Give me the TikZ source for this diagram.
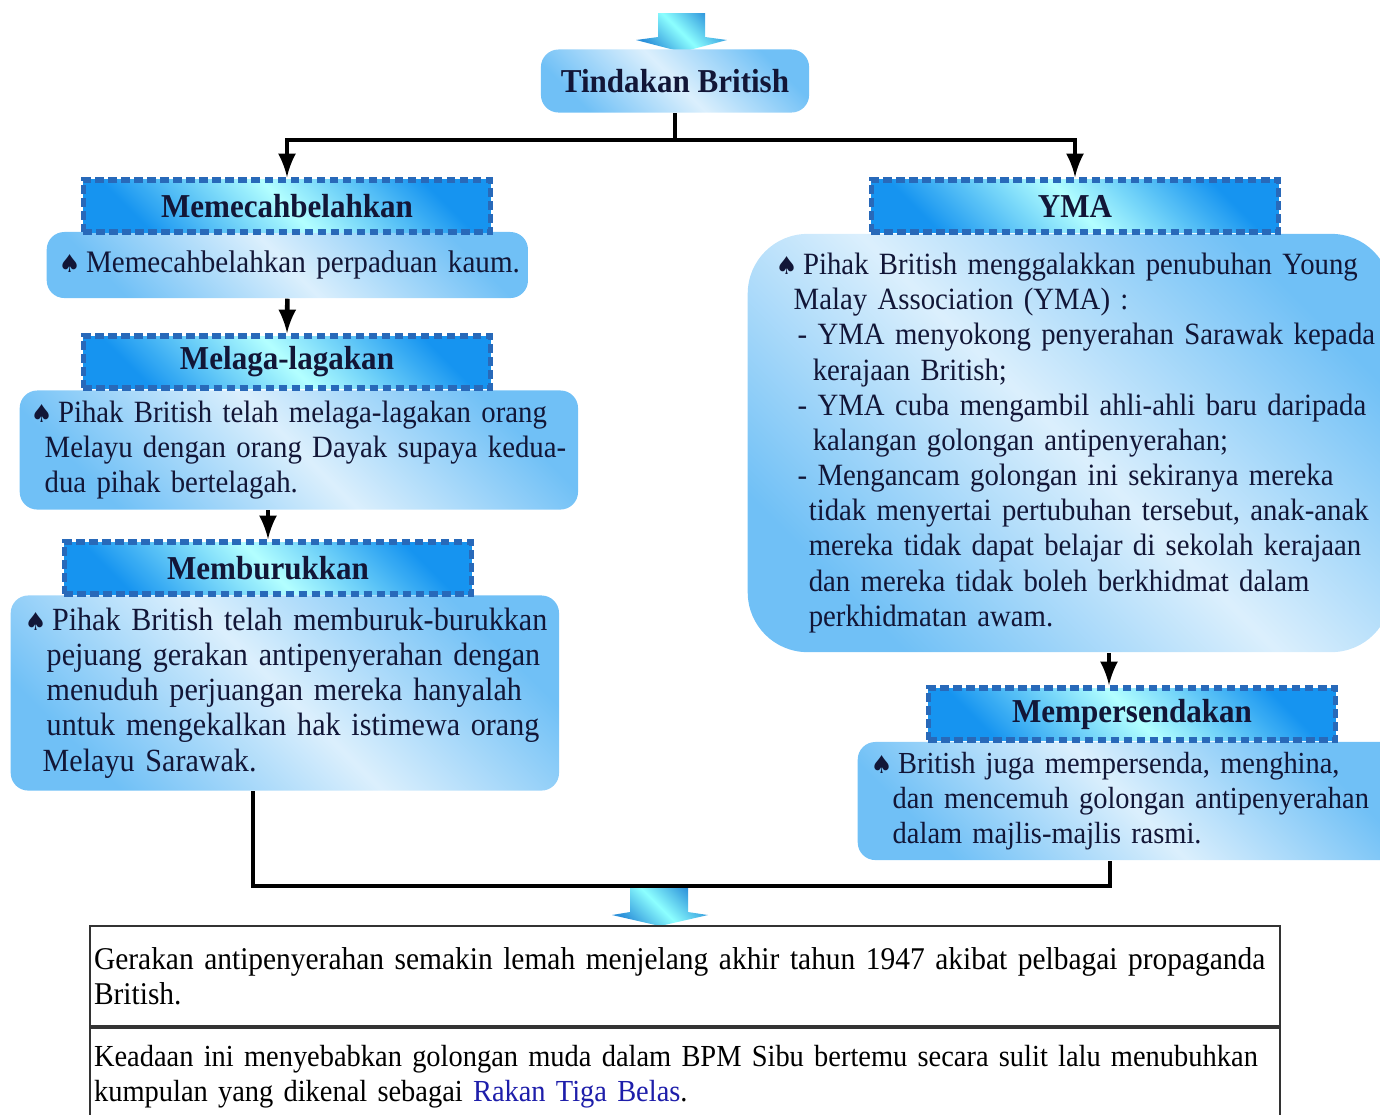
\documentclass[tikz,border=0pt]{standalone}
\usepackage{fontspec}
\setmainfont[FakeStretch=0.93]{Liberation Serif}
\newfontfamily\symfont{DejaVu Sans}
\usetikzlibrary{arrows,calc,positioning}

\definecolor{boxblue}{RGB}{112,192,246}
\definecolor{hdblue}{RGB}{22,148,240}
\definecolor{hdedge}{RGB}{40,105,185}
\definecolor{ink}{RGB}{18,22,55}
\definecolor{linkblue}{RGB}{30,30,170}
\newcommand{\spade}{{\symfont\fontsize{7}{7}\selectfont ♠}\hspace{1.5pt}}
% one unbroken line, indented by #1 cm
\newcommand{\lyn}[2]{\mbox{\hspace*{#1cm}#2}}

\tikzset{
  line/.style={draw=black, line width=1.3pt},
  arr/.style={line, -latex},
  txtbox/.style={rounded corners=5pt, left color=boxblue, right color=boxblue,
    middle color=white!75!boxblue, shading angle=135, align=left, anchor=west,
    inner xsep=0.02cm, inner ysep=0pt, text=ink, font=\fontsize{9.2}{10}\selectfont},
  hdbox/.style={draw=hdedge, dash pattern=on 2.5pt off 1.2pt, line width=1.6pt,
    left color=hdblue, right color=hdblue, middle color=white!70!cyan,
    shading angle=135, minimum width=4.07cm, minimum height=0.52cm,
    inner sep=0pt, text=ink, font=\bfseries\fontsize{9.5}{11}\selectfont},
  fatarrow/.style={left color=hdblue!80!gray, right color=hdblue!80!gray,
    middle color=white!55!cyan, shading angle=135},
  tablerow/.style={draw=black!80, line width=0.6pt, minimum width=11.89cm,
    text width=11.81cm, inner xsep=0.04cm, inner ysep=0pt, align=left,
    font=\fontsize{9}{10}\selectfont},
}

\begin{document}
\begin{tikzpicture}[x=0.01cm, y=-0.01cm]
  \path[use as bounding box, clip] (0,0) rectangle (1380,1114);

  % arrow coming in at the top
  \shade[fatarrow] (658,13) -- (705,13) -- (705,37) -- (727,40) -- (682,52)
    -- (636,40) -- (658,37) -- cycle;
  \node[rounded corners=5pt, left color=boxblue, right color=boxblue,
    middle color=white!75!boxblue, shading angle=135, minimum width=2.68cm,
    minimum height=0.63cm, text=ink, font=\bfseries\fontsize{9.5}{12}\selectfont]
    (tindakan) at (675,81) {Tindakan British};

  % left column
  \node[txtbox, text width=4.77cm, minimum height=0.66cm, font=\fontsize{8.9}{10}\selectfont] (memecah) at (46,265)
    {\lyn{0.10}{\spade Memecahbelahkan perpaduan kaum.}};
  \node[hdbox] (hdMemecah) at (287,206) {Memecahbelahkan};
  \node[txtbox, text width=5.54cm, minimum height=1.19cm, font=\fontsize{8.8}{10}\selectfont] (melaga) at (19,450)
    {\lyn{0.09}{\spade Pihak British telah melaga-lagakan orang}\\
     \lyn{0.23}{Melayu dengan orang Dayak supaya kedua-}\\
     \lyn{0.23}{dua pihak bertelagah.}};
  \node[hdbox] (hdMelaga) at (287,362) {Melaga-lagakan};
  \node[txtbox, text width=5.44cm, minimum height=1.95cm] (memburuk) at (10,693)
    {\lyn{0.12}{\spade Pihak British telah memburuk-burukkan}\\
     \lyn{0.34}{pejuang gerakan antipenyerahan dengan}\\
     \lyn{0.34}{menuduh perjuangan mereka hanyalah}\\
     \lyn{0.34}{untuk mengekalkan hak istimewa orang}\\
     \lyn{0.30}{Melayu Sarawak.}};
  \node[hdbox] (hdMemburuk) at (268,568) {Memburukkan};

  % right column
  \node[txtbox, rounded corners=17pt, text width=6.39cm, minimum height=4.18cm,
    font=\fontsize{8.8}{10}\selectfont] (yma) at (747,443)
    {\lyn{0.26}{\spade Pihak British menggalakkan penubuhan Young}\\
     \lyn{0.44}{Malay Association (YMA) :}\\
     \lyn{0.48}{- YMA menyokong penyerahan Sarawak kepada}\\
     \lyn{0.63}{kerajaan British;}\\
     \lyn{0.48}{- YMA cuba mengambil ahli-ahli baru daripada}\\
     \lyn{0.63}{kalangan golongan antipenyerahan;}\\
     \lyn{0.48}{- Mengancam golongan ini sekiranya mereka}\\
     \lyn{0.59}{tidak menyertai pertubuhan tersebut, anak-anak}\\
     \lyn{0.59}{mereka tidak dapat belajar di sekolah kerajaan}\\
     \lyn{0.59}{dan mereka tidak boleh berkhidmat dalam}\\
     \lyn{0.59}{perkhidmatan awam.}};
  \node[hdbox] (hdYMA) at (1075,206) {YMA};
  \node[txtbox, text width=5.36cm, minimum height=1.18cm, font=\fontsize{8.7}{10}\selectfont] (mempersenda) at (857,801)
    {\lyn{0.11}{\spade British juga mempersenda, menghina,}\\
     \lyn{0.33}{dan mencemuh golongan antipenyerahan}\\
     \lyn{0.33}{dalam majlis-majlis rasmi.}};
  \node[hdbox] (hdMemp) at (1132,714) {Mempersendakan};

  % connectors
  \coordinate (split) at (675,140);
  \coordinate (joinL) at (253,886);
  \coordinate (joinR) at (1110,886);
  \draw[line] (tindakan.south) -- (split);
  \draw[arr] (split) -| (hdMemecah.north);
  \draw[arr] (split) -| (hdYMA.north);
  \draw[arr] (memecah.south) -- (hdMelaga.north);
  \draw[arr] (hdMemburuk.north |- melaga.south) -- (hdMemburuk.north);
  \draw[arr] ([xshift=-0.23cm]hdMemp.north |- yma.south) -- ([xshift=-0.23cm]hdMemp.north);
  \draw[line] (memburuk.south -| joinL) -- (joinL) -- (joinR) -- (joinR |- mempersenda.south);

  % arrow into the result table
  \shade[fatarrow] (630,888) -- (688,888) -- (688,912) -- (708,915) -- (660,926)
    -- (612,915) -- (630,912) -- cycle;

  % result table
  \node[tablerow, anchor=north west, minimum height=1.00cm] (hasil1) at (89,925)
    {\lyn{0}{Gerakan antipenyerahan semakin lemah menjelang akhir tahun 1947 akibat pelbagai propaganda}\\
     British.};
  \node[tablerow, below=0pt of hasil1, minimum height=0.97cm, font=\fontsize{8.7}{10}\selectfont] (hasil2)
    {\lyn{0}{Keadaan ini menyebabkan golongan muda dalam BPM Sibu bertemu secara sulit lalu menubuhkan}\\
     kumpulan yang dikenal sebagai \textcolor{linkblue}{Rakan Tiga Belas}.};
\end{tikzpicture}
\end{document}
